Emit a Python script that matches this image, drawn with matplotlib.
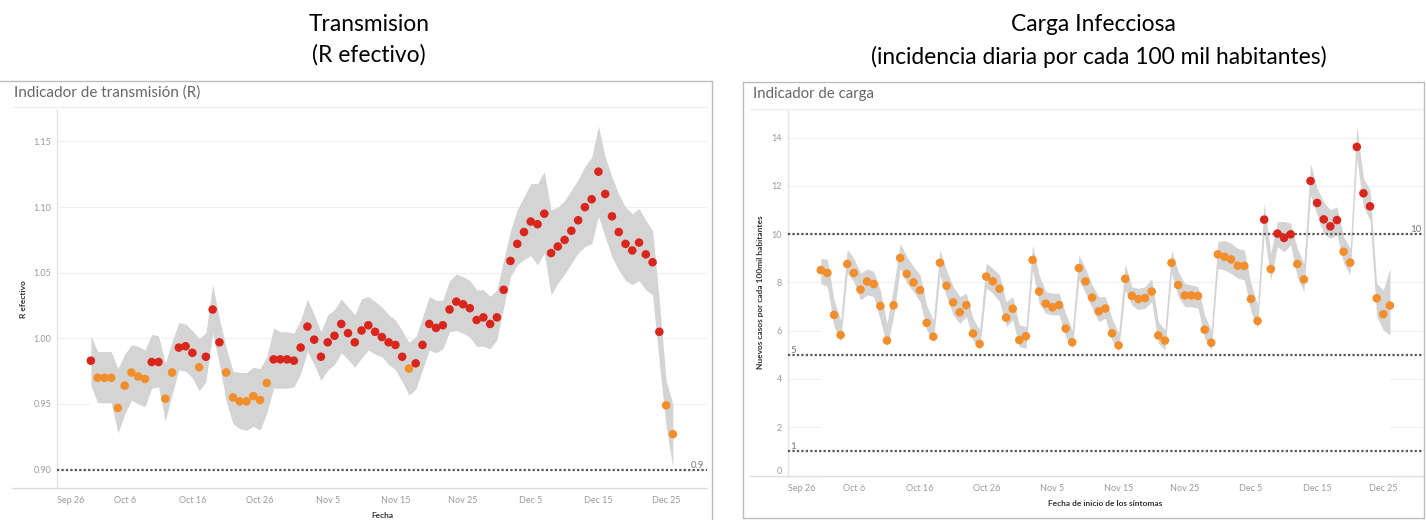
import matplotlib
matplotlib.use('Agg')
import matplotlib.pyplot as plt
import matplotlib.dates as mdates
from matplotlib.lines import Line2D
import numpy as np
import pandas as pd

# ---------------- data ----------------
start_date = '2020-10-01'
n_days = 87

r_vals = [0.983, 0.970, 0.970, 0.970, 0.947, 0.964, 0.974, 0.971, 0.969, 0.982,
          0.982, 0.954, 0.974, 0.993, 0.994, 0.989, 0.978, 0.986, 1.022, 0.997,
          0.974, 0.955, 0.952, 0.952, 0.956, 0.953, 0.966, 0.984, 0.984, 0.984,
          0.983, 0.993, 1.009, 0.999, 0.986, 0.997, 1.002, 1.011, 1.004, 0.997,
          1.006, 1.010, 1.005, 1.001, 0.997, 0.995, 0.986, 0.977, 0.981, 0.995,
          1.011, 1.008, 1.010, 1.022, 1.028, 1.026, 1.023, 1.014, 1.016, 1.011,
          1.016, 1.037, 1.059, 1.072, 1.081, 1.089, 1.087, 1.095, 1.065, 1.070,
          1.075, 1.082, 1.090, 1.100, 1.106, 1.127, 1.110, 1.093, 1.081, 1.072,
          1.067, 1.073, 1.064, 1.058, 1.005, 0.949, 0.927]
r_low = [0.964, 0.951, 0.951, 0.951, 0.928, 0.942, 0.953, 0.950, 0.948, 0.962,
         0.963, 0.937, 0.957, 0.976, 0.975, 0.970, 0.960, 0.967, 1.004, 0.980,
         0.952, 0.935, 0.931, 0.930, 0.933, 0.930, 0.943, 0.962, 0.962, 0.962,
         0.963, 0.973, 0.990, 0.980, 0.968, 0.976, 0.980, 0.989, 0.984, 0.978,
         0.985, 0.991, 0.988, 0.986, 0.980, 0.976, 0.967, 0.957, 0.961, 0.976,
         0.991, 0.989, 0.992, 1.005, 1.006, 1.004, 1.001, 0.994, 0.994, 0.992,
         0.999, 1.024, 1.047, 1.056, 1.060, 1.063, 1.056, 1.065, 1.033, 1.042,
         1.049, 1.057, 1.065, 1.070, 1.072, 1.093, 1.077, 1.062, 1.052, 1.044,
         1.041, 1.044, 1.037, 1.033, 0.981, 0.933, 0.901]
r_high = [1.002, 0.990, 0.990, 0.990, 0.977, 0.988, 0.995, 0.994, 0.991, 1.003,
          1.002, 0.981, 0.998, 1.012, 1.011, 1.006, 1.000, 1.004, 1.041, 1.015,
          0.993, 0.975, 0.974, 0.974, 0.978, 0.977, 0.986, 1.008, 1.005, 1.005,
          1.004, 1.014, 1.030, 1.018, 1.005, 1.018, 1.022, 1.030, 1.024, 1.018,
          1.030, 1.032, 1.028, 1.024, 1.018, 1.014, 1.006, 0.997, 1.001, 1.016,
          1.032, 1.029, 1.029, 1.044, 1.049, 1.047, 1.044, 1.037, 1.037, 1.032,
          1.037, 1.060, 1.082, 1.098, 1.108, 1.118, 1.118, 1.127, 1.098, 1.100,
          1.105, 1.113, 1.121, 1.131, 1.138, 1.162, 1.138, 1.123, 1.110, 1.100,
          1.095, 1.099, 1.090, 1.082, 1.029, 0.968, 0.950]

c_vals = [8.51, 8.39, 6.65, 5.82, 8.76, 8.39, 7.70, 8.04, 7.93, 7.02,
          5.59, 7.05, 9.01, 8.35, 8.00, 7.68, 6.32, 5.75, 8.81, 7.86,
          7.17, 6.76, 7.06, 5.88, 5.45, 8.24, 8.04, 7.74, 6.54, 6.91,
          5.61, 5.77, 8.93, 7.62, 7.12, 6.97, 7.06, 6.09, 5.52, 8.59,
          8.04, 7.37, 6.80, 6.92, 5.89, 5.39, 8.15, 7.44, 7.31, 7.35,
          7.62, 5.80, 5.59, 8.81, 7.89, 7.46, 7.46, 7.44, 6.04, 5.50,
          9.16, 9.06, 8.95, 8.69, 8.68, 7.31, 6.40, 10.60, 8.55, 10.02,
          9.84, 9.99, 8.76, 8.12, 12.20, 11.29, 10.61, 10.32, 10.58, 9.27,
          8.82, 13.61, 11.69, 11.15, 7.34, 6.68, 7.04]
c_low = [7.96, 7.82, 6.17, 5.54, 8.38, 8.03, 7.27, 7.48, 7.41, 6.44,
         5.34, 6.58, 8.58, 7.96, 7.62, 7.20, 6.03, 5.54, 8.30, 7.41,
         6.65, 6.30, 6.58, 5.61, 5.20, 7.76, 7.55, 7.20, 6.17, 6.44,
         5.34, 5.27, 8.51, 7.13, 6.72, 6.65, 6.65, 5.75, 5.27, 8.10,
         7.55, 6.93, 6.37, 6.51, 5.61, 5.13, 7.68, 7.06, 6.86, 6.93,
         7.20, 5.48, 5.20, 8.37, 7.41, 6.99, 6.99, 6.93, 5.68, 5.20,
         8.58, 8.51, 8.37, 8.17, 8.10, 6.79, 6.10, 10.03, 8.10, 9.48,
         9.27, 9.55, 8.24, 7.61, 11.62, 10.79, 10.03, 9.82, 9.96, 8.79,
         8.31, 13.14, 11.13, 10.58, 6.58, 6.03, 5.82]
c_high = [8.99, 8.95, 7.27, 6.44, 9.37, 8.99, 8.38, 8.56, 8.45, 7.68,
          6.30, 7.82, 9.62, 9.06, 8.65, 8.31, 7.06, 6.44, 9.34, 8.51,
          7.82, 7.41, 7.55, 6.51, 6.03, 8.79, 8.58, 8.31, 7.20, 7.41,
          6.24, 6.17, 9.55, 8.31, 7.62, 7.55, 7.55, 6.72, 6.03, 9.13,
          8.58, 7.89, 7.41, 7.41, 6.51, 5.89, 8.76, 7.82, 7.75, 7.82,
          8.17, 6.37, 6.03, 9.34, 8.45, 7.96, 7.89, 7.82, 6.65, 6.03,
          9.69, 9.73, 9.62, 9.41, 9.34, 7.96, 7.06, 11.27, 9.20, 10.52,
          10.52, 10.45, 9.41, 8.79, 12.93, 11.89, 11.34, 11.00, 11.13, 9.89,
          9.41, 14.45, 12.31, 11.82, 7.96, 7.68, 8.58]

tick_dates = ['2020-09-26', '2020-10-06', '2020-10-16', '2020-10-26', '2020-11-05',
              '2020-11-15', '2020-11-25', '2020-12-05', '2020-12-15', '2020-12-25']
tick_labels = ['Sep 26', 'Oct 6', 'Oct 16', 'Oct 26', 'Nov 5',
               'Nov 15', 'Nov 25', 'Dec 5', 'Dec 15', 'Dec 25']

r_ticks = [0.90, 0.95, 1.00, 1.05, 1.10, 1.15]
r_tick_labels = ['0.90', '0.95', '1.00', '1.05', '1.10', '1.15']
r_refs = [0.9]
c_ticks = [0, 2, 4, 6, 8, 10, 12, 14]
c_refs = [10, 5, 1]

r_threshold = 0.98
c_threshold = 9.5

# ---------------- style ----------------
W, H = 1426, 520
RED = '#d9261c'
ORANGE = '#f28e2b'
BAND = '#d4d4d4'
FONT = 'Lato'
plt.rcParams['font.family'] = [FONT, 'DejaVu Sans']

dates = pd.date_range(start_date, periods=n_days)
tdates = pd.to_datetime(tick_dates)

fig = plt.figure(figsize=(W / 100, H / 100), dpi=100)


def fx(x):
    return x / W


def fy(y):
    return 1 - y / H


def panel(ax, vals, low, high, ticks, tlabels, ylim, refs, thr, xlim):
    ax.set_xlim(xlim)
    ax.set_ylim(ylim)
    ax.set_yticks(ticks)
    ax.set_yticklabels(tlabels)
    ax.grid(axis='y', color='#efefef', linewidth=0.8, zorder=0)
    ax.set_axisbelow(True)
    # white area under lower bound (hides gridlines), then grey band
    ax.fill_between(dates, ylim[0], low, color='white', linewidth=0, zorder=1)
    ax.fill_between(dates, low, high, color=BAND, linewidth=0, zorder=2)
    for r in refs:
        ax.axhline(r, color='#555555', linestyle=(0, (1, 1)), linewidth=1.6, zorder=3)
    v = np.array(vals)
    cols = np.where(v >= thr, RED, ORANGE)
    ax.scatter(dates, v, s=38, c=cols, linewidths=0, zorder=4)
    ax.set_xticks(tdates)
    ax.set_xticklabels(tick_labels)
    ax.tick_params(axis='both', length=0, labelsize=6.5, labelcolor='#9a9a9a', pad=4)
    ax.tick_params(axis='x', pad=6)
    for s in ['top', 'right']:
        ax.spines[s].set_visible(False)
    ax.spines['left'].set_color('#e3e3e3')
    ax.spines['bottom'].set_color('#dcdcdc')
    ax.spines['left'].set_linewidth(1.0)
    ax.spines['bottom'].set_linewidth(1.0)
    lbl = ax.get_xticklabels()[0]
    lbl.set_ha('left')
    ax.set_facecolor('none')


# ---------------- left panel ----------------
axL = fig.add_axes([fx(57), fy(488), fx(707) - fx(57), (488 - 110) / H])
panel(axL, r_vals, r_low, r_high, r_ticks, r_tick_labels, (0.886, 1.174), r_refs, r_threshold,
      (pd.Timestamp('2020-09-26 02:00'), pd.Timestamp('2020-12-31 01:00')))
axL.text(0.995, 0.9, '0.9', transform=axL.get_yaxis_transform(), ha='right', va='bottom',
         fontsize=7, color='#777777')
fig.text(fx(24), fy(299), 'R efectivo', rotation=90, ha='center', va='center', fontsize=6,
         color='#333333', fontweight='bold')
fig.text(fx(382), fy(516), 'Fecha', ha='center', va='center', fontsize=6, color='#333333',
         fontweight='bold')

# ---------------- right panel ----------------
axR = fig.add_axes([fx(787.7), fy(475.5), fx(1423) - fx(787.7), (475.5 - 110) / H])
panel(axR, c_vals, c_low, c_high, c_ticks, [str(t) for t in c_ticks], (0, 15.14), c_refs,
      c_threshold, (pd.Timestamp('2020-09-26 06:00'), pd.Timestamp('2020-12-31 00:00')))
axR.get_yticklabels()[0].set_va('bottom')
axR.text(0.998, 10, '10', transform=axR.get_yaxis_transform(), ha='right', va='bottom',
         fontsize=7, color='#777777')
axR.text(0.004, 5, '5', transform=axR.get_yaxis_transform(), ha='left', va='bottom',
         fontsize=7, color='#777777')
axR.text(0.004, 1, '1', transform=axR.get_yaxis_transform(), ha='left', va='bottom',
         fontsize=7, color='#777777')
fig.text(fx(761), fy(292), 'Nuevos casos por cada 100mil habitantes', rotation=90, ha='center',
         va='center', fontsize=6, color='#333333', fontweight='bold')
fig.text(fx(1105), fy(504), 'Fecha de inicio de los síntomas', ha='center', va='center',
         fontsize=6, color='#333333', fontweight='bold')

# ---------------- frames, subtitles, titles ----------------
lines = [
    ((0, 712), (81, 81)), ((712, 712), (81, 520)),
    ((743, 1424), (82, 82)), ((743, 743), (82, 518)), ((1424, 1424), (82, 518)),
    ((743, 1424), (518, 518)),
]
for xs, ys in lines:
    fig.add_artist(Line2D([fx(xs[0]), fx(xs[1])], [fy(ys[0]), fy(ys[1])], color='#bdbdbd',
                          linewidth=1.0))
for xs, y in [((12, 707), 107.5), ((750, 1423), 109)]:
    fig.add_artist(Line2D([fx(xs[0]), fx(xs[1])], [fy(y), fy(y)], color='#eeeeee', linewidth=1.0))
for xs, y in [((12, 57), 488), ((750, 788), 475.5)]:
    fig.add_artist(Line2D([fx(xs[0]), fx(xs[1])], [fy(y), fy(y)], color='#dcdcdc', linewidth=1.0))

fig.text(fx(14), fy(93), 'Indicador de transmisión (R)', ha='left', va='center', fontsize=11,
         color='#666666')
fig.text(fx(753), fy(94), 'Indicador de carga', ha='left', va='center', fontsize=10.8,
         color='#666666')

TS = 16.4
fig.text(fx(369), fy(24), 'Transmision', ha='center', va='center', fontsize=TS, color='#000000')
fig.text(fx(369), fy(55), '(R efectivo)', ha='center', va='center', fontsize=TS, color='#000000')
fig.text(fx(1093), fy(24), 'Carga Infecciosa', ha='center', va='center', fontsize=TS,
         color='#000000')
fig.text(fx(1099), fy(57), '(incidencia diaria por cada 100 mil habitantes)', ha='center',
         va='center', fontsize=TS, color='#000000')

fig.savefig('out.png', dpi=100, facecolor='white')
